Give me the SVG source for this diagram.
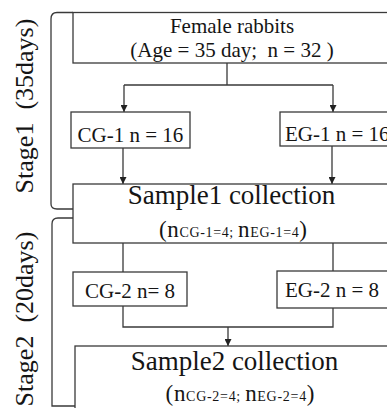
<svg xmlns="http://www.w3.org/2000/svg" width="387" height="408" viewBox="0 0 387 408">
<defs>
<style>
.box{fill:#fff;stroke:#3a3a3a;stroke-width:1.3}
.ln{fill:none;stroke:#3a3a3a;stroke-width:1.3}
text{font-family:"Liberation Serif","Times New Roman",serif;fill:#151515}
.t21{font-size:21px}
.big{font-size:27px}
.lbl{font-size:26px}
</style>
<marker id="ah" viewBox="0 0 10 10" refX="10" refY="5" markerWidth="7" markerHeight="7" markerUnits="userSpaceOnUse" orient="auto">
<path d="M0,0 L10,5 L0,10 z" fill="#222"/>
</marker>
</defs>
<rect width="387" height="408" fill="#fff"/>

<g id="brackets">
<path class="ln" d="M73,12.5 L57,12.5 Q51,12.5 51,19 L51,204 Q51,209 57,209 L73,209"/>
<path class="ln" d="M73,218 L58,218 Q52,218 52,224 L52,406 L75,406"/>
</g>

<g id="stage1-label">
<text class="lbl" transform="translate(33,106) rotate(-90)" text-anchor="middle" xml:space="preserve">Stage1  (35days)</text>
</g>
<g id="stage2-label">
<text class="lbl" transform="translate(33,319) rotate(-90)" text-anchor="middle" xml:space="preserve">Stage2  (20days)</text>
</g>

<g id="connectors">
<path class="ln" d="M227,63 L227,85 M124,85 L333,85"/>
<path class="ln" d="M124,85 L124,112" marker-end="url(#ah)"/>
<path class="ln" d="M333,85 L333,112" marker-end="url(#ah)"/>
<path class="ln" d="M123,148 L123,184" marker-end="url(#ah)"/>
<path class="ln" d="M332,146 L332,184" marker-end="url(#ah)"/>
<path class="ln" d="M123,243 L123,272 M333,243 L333,271"/>
<path class="ln" d="M123,306 L123,327 L333,327 L333,308"/>
<path class="ln" d="M228,327 L228,346" marker-end="url(#ah)"/>
</g>

<g id="top-box">
<rect class="box" x="73" y="12.5" width="322" height="50.5"/>
<text class="t21" x="232" y="33" text-anchor="middle">Female rabbits</text>
<text class="t21" x="232" y="57" text-anchor="middle" xml:space="preserve">(Age = 35 day;  n = 32 )</text>
</g>

<g id="cg1">
<rect class="box" x="71" y="112" width="119" height="36"/>
<text class="t21" x="130.5" y="142" text-anchor="middle">CG-1 n = 16</text>
</g>

<g id="eg1">
<rect class="box" x="280" y="112" width="120" height="34"/>
<text class="t21" x="285" y="141">EG-1 n = 16</text>
</g>

<g id="sample1">
<rect class="box" x="73" y="184" width="322" height="59"/>
<text class="big" x="231.5" y="204" text-anchor="middle">Sample1 collection</text>
<text x="233" y="237" text-anchor="middle" textLength="148" lengthAdjust="spacing" xml:space="preserve"><tspan font-size="23">(n</tspan><tspan font-size="14">CG-1=4; </tspan><tspan font-size="23">n</tspan><tspan font-size="14">EG-1=4</tspan><tspan font-size="23">)</tspan></text>
</g>

<g id="cg2">
<rect class="box" x="73" y="272" width="114" height="34"/>
<text class="t21" x="130" y="298" text-anchor="middle">CG-2 n= 8</text>
</g>

<g id="eg2">
<rect class="box" x="277" y="271" width="114" height="37"/>
<text class="t21" x="285" y="297">EG-2 n = 8</text>
</g>

<g id="sample2">
<rect class="box" x="75" y="346" width="320" height="70"/>
<text class="big" x="234.5" y="370" text-anchor="middle">Sample2 collection</text>
<text x="240" y="401" text-anchor="middle" textLength="149" lengthAdjust="spacing" xml:space="preserve"><tspan font-size="23">(n</tspan><tspan font-size="14">CG-2=4; </tspan><tspan font-size="23">n</tspan><tspan font-size="14">EG-2=4</tspan><tspan font-size="23">)</tspan></text>
</g>
</svg>
